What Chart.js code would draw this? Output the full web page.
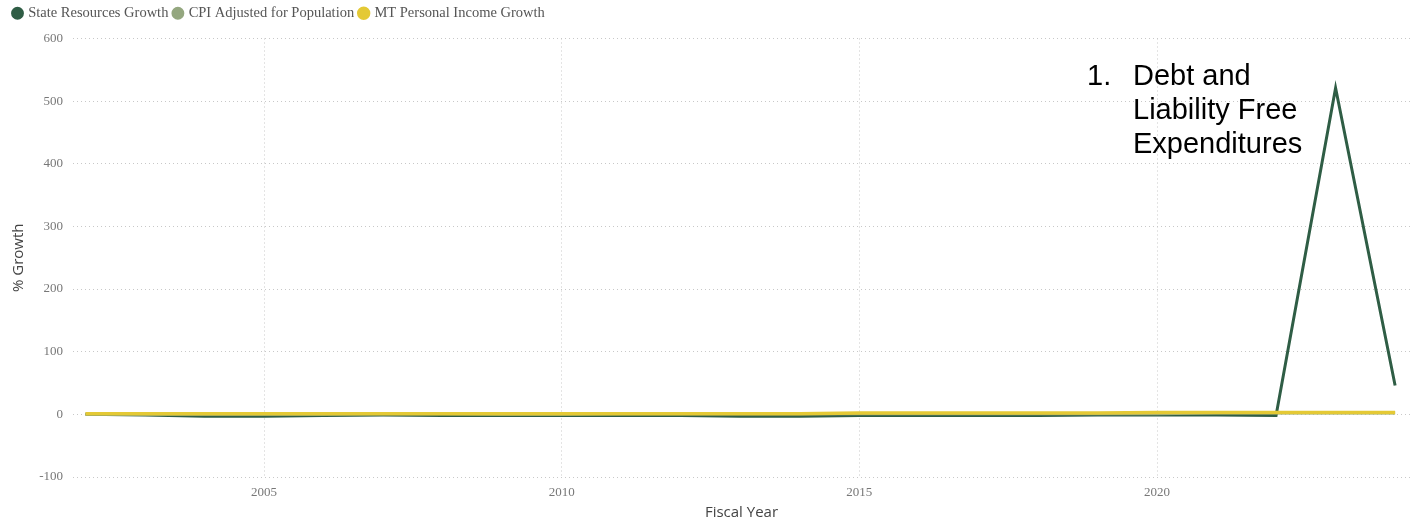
<!DOCTYPE html>
<html>
<head>
<meta charset="utf-8">
<script src="https://cdn.jsdelivr.net/npm/chart.js@4"></script>
<style>
  body { margin: 0; background: #fff; }
  #wrap { position: relative; width: 1416px; height: 525px; }
  #note {
    position: absolute; left: 1087px; top: 58px;
    font-family: "Liberation Sans", Arial, sans-serif; font-size: 29px; line-height: 34px; color: #000;
  }
  #note .num { position: absolute; left: 0; top: 0; }
  #note .txt { margin-left: 46px; }
</style>
</head>
<body>
<div id="wrap">
  <canvas id="growth"></canvas>
  <div id="note"><span class="num">1.</span><div class="txt">Debt and<br>Liability Free<br>Expenditures</div></div>
</div>
<script>
// fiscal years and % growth series
const years = [2002, 2003, 2004, 2005, 2006, 2007, 2008, 2009, 2010, 2011, 2012, 2013,
               2014, 2015, 2016, 2017, 2018, 2019, 2020, 2021, 2022, 2023, 2024];
const stateResources = [0, -1, -3, -3, -2, -1, -2, -2, -2, -2, -2, -3,
                        -3, -2, -2, -2, -2, -1, -1, -1, -2, 521, 46];
const cpiPopulation = [0, 0, 0, 0, 0, 1, 1, 0, 0, 1, 1, 1,
                       1, 1, 1, 1, 1, 1, 1, 2, 2, 2, 2];
const mtIncome = [1, 1, 1, 1, 1, 1, 1, 1, 1, 1, 1, 1,
                  1, 2, 2, 2, 2, 2, 3, 3, 3, 3, 3];
const xTicks = [2005, 2010, 2015, 2020];

const pts = arr => arr.map((v, i) => ({ x: years[i], y: v }));

// give the legend a bit more room below it
const legendSpace = {
    id: 'legendSpace',
    beforeInit(chart) {
        const fit = chart.legend.fit;
        chart.legend.fit = function () {
            fit.call(this);
            this.height += 8;
        };
    }
};

const ctx = document.getElementById('growth').getContext('2d');
new Chart(ctx, {
    type: 'line',
    plugins: [legendSpace],
    data: {
        datasets: [{
            label: 'State Resources Growth',
            data: pts(stateResources),
            borderColor: '#2f5d45',
            backgroundColor: '#2f5d45',
            borderWidth: 3,
            order: 2
        }, {
            label: 'CPI Adjusted for Population',
            data: pts(cpiPopulation),
            borderColor: '#94a77f',
            backgroundColor: '#94a77f',
            borderWidth: 3,
            order: 1
        }, {
            label: 'MT Personal Income Growth',
            data: pts(mtIncome),
            borderColor: '#e4c935',
            backgroundColor: '#e4c935',
            borderWidth: 3.5,
            order: 0
        }]
    },
    options: {
        responsive: true,
        maintainAspectRatio: false,
        animation: false,
        elements: { point: { radius: 0 }, line: { tension: 0 } },
        layout: { padding: { left: 8, right: 6, top: 0, bottom: 0 } },
        plugins: {
            tooltip: { enabled: false },
            legend: {
                position: 'top',
                align: 'start',
                labels: {
                    usePointStyle: true,
                    pointStyle: 'circle',
                    boxWidth: 7,
                    boxHeight: 7,
                    padding: 6,
                    color: '#555',
                    font: { family: '"Liberation Serif", "Times New Roman", serif', size: 14.5 },
                    sort: (a, b) => a.datasetIndex - b.datasetIndex
                }
            }
        },
        scales: {
            x: {
                type: 'linear',
                min: 2001.79,
                max: 2024.25,
                afterBuildTicks: s => { s.ticks = xTicks.map(v => ({ value: v })); },
                afterFit: s => { s.height = 48; },
                grid: { color: '#c8c8c8', drawTicks: false },
                border: { display: false, dash: [1, 3] },
                ticks: {
                    padding: 8,
                    color: '#777',
                    maxRotation: 0,
                    font: { family: '"Liberation Serif", "Times New Roman", serif', size: 13 },
                    callback: v => String(v)
                },
                title: {
                    display: true,
                    text: 'Fiscal Year',
                    color: '#444',
                    padding: { top: 0, bottom: 3 },
                    font: { family: '"Open Sans", "Segoe UI", sans-serif', size: 15 }
                }
            },
            y: {
                min: -100,
                max: 600,
                afterFit: s => { s.width = 65; },
                grid: { color: '#c8c8c8', drawTicks: false },
                border: { display: false, dash: [1, 3] },
                ticks: {
                    stepSize: 100,
                    padding: 10,
                    color: '#777',
                    font: { family: '"Liberation Serif", "Times New Roman", serif', size: 13 }
                },
                title: {
                    display: true,
                    text: '% Growth',
                    color: '#444',
                    padding: { top: 2, bottom: 0 },
                    font: { family: '"Open Sans", "Segoe UI", sans-serif', size: 15 }
                }
            }
        }
    }
});
</script>
</body>
</html>
